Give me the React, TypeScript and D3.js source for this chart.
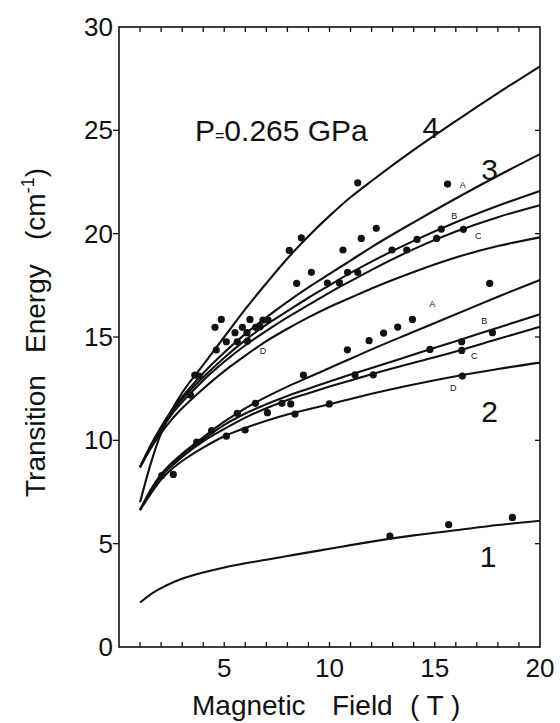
import React from "react";
import * as d3 from "d3";

// ---- data ----
const curveX = [1, 1.5, 2, 2.5, 3, 4, 5, 6, 7, 8, 9, 10, 11, 12, 14, 16, 18, 20];

const curve4 = [7.0, 8.85, 10.35, 11.45, 12.3, 13.65, 15.0, 16.35, 17.6, 18.8, 19.88, 20.86, 21.76, 22.55, 24.05, 25.45, 26.8, 28.1];
const curve3A = [8.7, 9.75, 10.65, 11.45, 12.1, 13.25, 14.25, 15.15, 15.95, 16.7, 17.4, 18.05, 18.7, 19.35, 20.55, 21.7, 22.8, 23.85];
const curve3B = [8.7, 9.7, 10.55, 11.35, 12.0, 13.05, 14.0, 14.85, 15.6, 16.25, 16.9, 17.5, 18.1, 18.65, 19.65, 20.55, 21.35, 22.07];
const curve3C = [8.7, 9.65, 10.5, 11.25, 11.85, 12.9, 13.8, 14.6, 15.3, 15.95, 16.55, 17.15, 17.7, 18.25, 19.25, 20.1, 20.8, 21.38];
const curve3D = [8.7, 9.6, 10.35, 11.0, 11.55, 12.5, 13.35, 14.1, 14.8, 15.4, 15.95, 16.45, 16.9, 17.35, 18.15, 18.85, 19.4, 19.82];
const curve2A = [6.63, 7.6, 8.35, 8.9, 9.35, 10.15, 10.9, 11.55, 12.1, 12.6, 13.05, 13.5, 13.95, 14.4, 15.25, 16.1, 16.95, 17.76];
const curve2B = [6.63, 7.55, 8.3, 8.85, 9.3, 10.05, 10.75, 11.3, 11.75, 12.15, 12.5, 12.85, 13.18, 13.5, 14.15, 14.8, 15.45, 16.1];
const curve2C = [6.63, 7.5, 8.25, 8.75, 9.2, 9.95, 10.55, 11.1, 11.55, 11.95, 12.28, 12.6, 12.9, 13.2, 13.75, 14.3, 14.9, 15.5];
const curve2D = [6.63, 7.4, 8.1, 8.6, 9.0, 9.65, 10.2, 10.6, 10.95, 11.25, 11.5, 11.75, 12.0, 12.25, 12.7, 13.1, 13.45, 13.76];
const curve1 = [2.15, 2.55, 2.85, 3.1, 3.3, 3.6, 3.85, 4.05, 4.22, 4.4, 4.58, 4.75, 4.93, 5.1, 5.4, 5.65, 5.9, 6.11];

const curves = [curve4, curve3A, curve3B, curve3C, curve3D, curve2A, curve2B, curve2C, curve2D, curve1];

const pointsX = [
  11.34, 15.61, 8.66, 8.09, 12.22, 11.51, 10.64, 9.14, 8.44, 9.9, 10.47, 10.86, 11.34, 12.97, 13.67, 14.16, 15.09, 15.31, 16.36, 17.61,
  13.94, 13.24, 12.57, 11.88, 10.85, 8.76, 14.77, 16.28, 17.74, 16.28, 11.21, 12.08, 7.74, 8.16, 8.36, 9.99, 16.31,
  7.05, 6.48, 5.62, 5.99, 4.4, 3.69, 2.03, 2.58, 5.1,
  3.6, 3.8, 3.4, 4.86, 4.56, 5.1, 4.62, 5.51, 5.86, 6.22, 6.08, 6.49, 6.84, 7.08, 5.62, 6.1, 6.7,
  12.87, 15.66, 18.69,
];
const pointsY = [
  22.46, 22.4, 19.8, 19.19, 20.26, 19.77, 19.21, 18.13, 17.59, 17.61, 17.63, 18.13, 18.13, 19.21, 19.21, 19.72, 19.77, 20.22, 20.21, 17.59,
  15.85, 15.48, 15.19, 14.82, 14.38, 13.16, 14.4, 14.77, 15.21, 14.35, 13.17, 13.17, 11.79, 11.76, 11.27, 11.76, 13.11,
  11.34, 11.79, 11.31, 10.5, 10.47, 9.92, 8.29, 8.35, 10.2,
  13.16, 13.11, 12.19, 15.85, 15.47, 14.77, 14.37, 15.21, 15.47, 15.85, 15.21, 15.47, 15.82, 15.82, 14.77, 14.8, 15.5,
  5.37, 5.92, 6.27,
];

const xTickLabels = [5, 10, 15, 20];
const yTickLabels = [0, 5, 10, 15, 20, 25, 30];

const curveNumbers = ["4", "3", "2", "1"];
const curveNumberX = [14.82, 17.6, 17.6, 17.53];
const curveNumberY = [25.15, 23.1, 11.4, 4.4];

const letterLabels = ["A", "B", "C", "D", "A", "B", "C", "D"];
const letterX = [16.33, 15.93, 17.07, 6.84, 14.88, 17.35, 16.88, 15.88];
const letterY = [22.38, 20.86, 19.88, 14.32, 16.63, 15.8, 14.1, 12.54];

const FONT = "'Liberation Sans', Arial, Helvetica, sans-serif";

export default function App() {
  const W = 560;
  const H = 723;
  const x = d3.scaleLinear().domain([0, 20]).range([119, 540]);
  const y = d3.scaleLinear().domain([0, 30]).range([647, 27]);

  const line = d3
    .line<number>()
    .x((_, i) => x(curveX[i]))
    .y((v) => y(v))
    .curve(d3.curveMonotoneX);

  const minorX = d3.range(1, 20, 1);
  const majorY = d3.range(5, 30, 5);

  return (
    <svg
      width={W}
      height={H}
      style={{ position: "absolute", left: 0, top: 0, background: "#fff" }}
      fontFamily={FONT}
    >
      <rect x={0} y={0} width={W} height={H} fill="#fff" />
      {/* frame */}
      <rect
        x={x(0)}
        y={y(30)}
        width={x(20) - x(0)}
        height={y(0) - y(30)}
        fill="none"
        stroke="#111"
        strokeWidth={1.6}
      />
      {/* ticks bottom & top */}
      {minorX.map((t) => (
        <g key={"xt" + t}>
          <line x1={x(t)} x2={x(t)} y1={y(0)} y2={y(0) - 5} stroke="#111" strokeWidth={1.3} />
          <line x1={x(t)} x2={x(t)} y1={y(30)} y2={y(30) + 5} stroke="#111" strokeWidth={1.3} />
        </g>
      ))}
      {/* ticks left (outward) & right (inward) */}
      {majorY.map((t) => (
        <g key={"yt" + t}>
          <line x1={x(0)} x2={x(0) - 6} y1={y(t)} y2={y(t)} stroke="#111" strokeWidth={1.3} />
          <line x1={x(20)} x2={x(20) - 5} y1={y(t)} y2={y(t)} stroke="#111" strokeWidth={1.3} />
        </g>
      ))}
      {/* tick labels */}
      {xTickLabels.map((t) => (
        <text key={"xl" + t} x={x(t)} y={677} fontSize={26} textAnchor="middle" fill="#111">
          {t}
        </text>
      ))}
      {yTickLabels.map((t) => (
        <text
          key={"yl" + t}
          x={113}
          y={y(t) + 9}
          fontSize={26}
          textAnchor="end"
          fill="#111"
        >
          {t}
        </text>
      ))}
      {/* axis titles */}
      <text y={715} fontSize={28} fill="#111" xmlSpace="preserve">
        <tspan x={192}>Magnetic</tspan>
        <tspan x={332}>Field</tspan>
        <tspan x={410}>( T )</tspan>
      </text>
      <text transform="rotate(-90)" y={45} fontSize={28} fill="#111">
        <tspan x={-497}>Transition</tspan>
        <tspan x={-353}>Energy</tspan>
        <tspan x={-240}>(cm</tspan>
        <tspan fontSize={18} dy={-11}>-1</tspan>
        <tspan dy={11}>)</tspan>
      </text>
      {/* curves */}
      {curves.map((c, i) => (
        <path key={"c" + i} d={line(c) || ""} fill="none" stroke="#111" strokeWidth={2.1} />
      ))}
      {/* points */}
      {pointsX.map((px, i) => (
        <circle key={"p" + i} cx={x(px)} cy={y(pointsY[i])} r={3.6} fill="#111" />
      ))}
      {/* pressure label */}
      <text x={195} y={141} fontSize={30} fill="#111">
        P<tspan fontSize={16}>=</tspan>0.265 GPa
      </text>
      {/* curve numbers */}
      {curveNumbers.map((s, i) => (
        <text
          key={"n" + i}
          x={x(curveNumberX[i])}
          y={y(curveNumberY[i]) + 10.7}
          fontSize={30}
          textAnchor="middle"
          fill="#111"
        >
          {s}
        </text>
      ))}
      {/* small letters */}
      {letterLabels.map((s, i) => (
        <text
          key={"l" + i}
          x={x(letterX[i])}
          y={y(letterY[i]) + 3.3}
          fontSize={9}
          textAnchor="middle"
          fill="#111"
        >
          {s}
        </text>
      ))}
    </svg>
  );
}
